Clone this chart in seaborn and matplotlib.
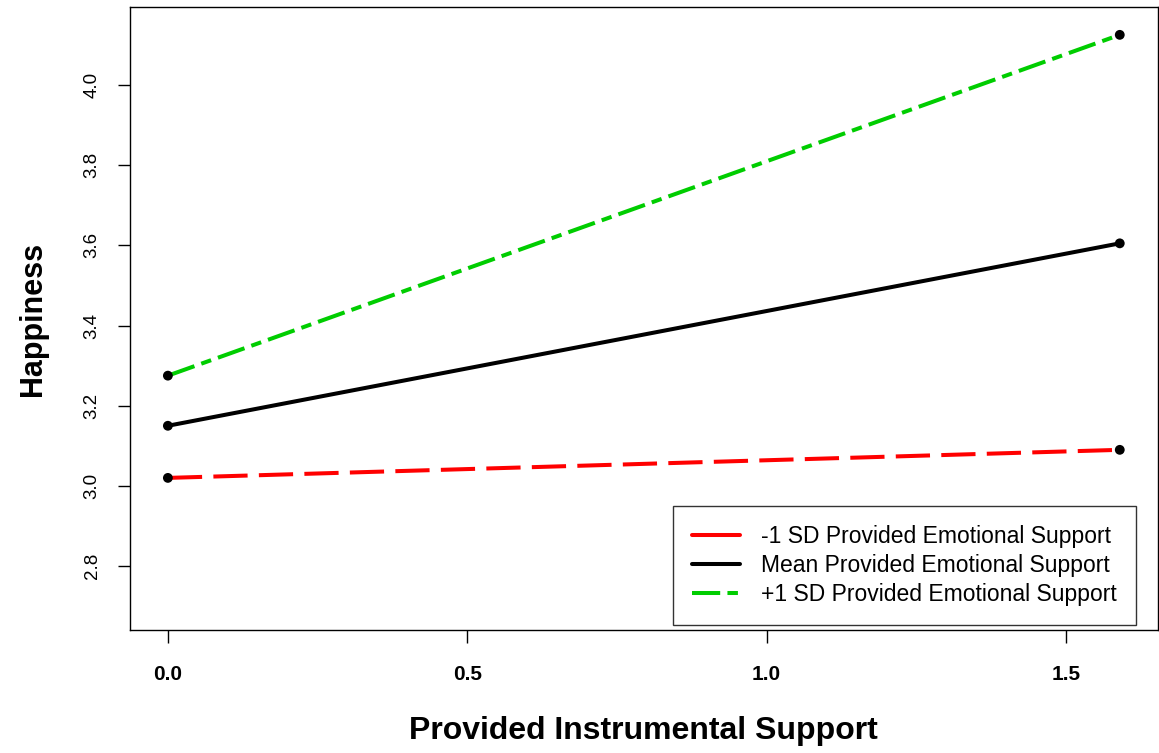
import matplotlib
matplotlib.use("Agg")
import matplotlib.pyplot as plt
import pandas as pd
import seaborn as sns

# Valores
x_vals = [0.0, 1.59]
low_vals = [3.02, 3.09]
mean_vals = [3.15, 3.605]
high_vals = [3.275, 4.125]

series_names = [
    "-1 SD Provided Emotional Support",
    "Mean Provided Emotional Support",
    "+1 SD Provided Emotional Support",
]
x_ticks = [0.0, 0.5, 1.0, 1.5]
y_ticks = [2.8, 3.0, 3.2, 3.4, 3.6, 3.8, 4.0]

colors = {series_names[0]: "#FF0000", series_names[1]: "#000000", series_names[2]: "#00CD00"}
dashes = {series_names[0]: (8.5, 2.8), series_names[1]: "", series_names[2]: (7.0, 1.8, 2.6, 1.8)}

df = pd.DataFrame({
    "x": x_vals * 3,
    "y": low_vals + mean_vals + high_vals,
    "grupo": [n for n in series_names for _ in x_vals],
})

sns.set_style("white")
plt.rcParams["font.family"] = ["Liberation Sans", "DejaVu Sans"]
plt.rcParams["text.color"] = "black"
plt.rcParams["axes.labelcolor"] = "black"
plt.rcParams["xtick.color"] = "black"
plt.rcParams["ytick.color"] = "black"

fig = plt.figure(figsize=(11.59, 7.53), dpi=100)
ax = fig.add_axes([0.112, 0.163, 0.887, 0.828])

sns.lineplot(data=df, x="x", y="y", hue="grupo", style="grupo", palette=colors,
             dashes=dashes, linewidth=2.9, ax=ax, legend=True)
sns.scatterplot(data=df, x="x", y="y", color="black", s=50, edgecolor="none",
                ax=ax, legend=False, zorder=5)

ax.set_xlim(-0.0636, 1.6536)
ax.set_ylim(2.64, 4.195)
ax.set_xticks(x_ticks)
ax.set_xticklabels([f"{t:.1f}" for t in x_ticks], fontsize=15, fontweight="bold")
ax.set_yticks(y_ticks)
ax.set_yticklabels([f"{t:.1f}" for t in y_ticks], fontsize=13.5, rotation=90, va="center")

ax.tick_params(axis="both", direction="out", length=9, width=1, color="black",
               bottom=True, left=True)
ax.tick_params(axis="x", pad=16)
ax.tick_params(axis="y", pad=12)

for s in ax.spines.values():
    s.set_color("black")
    s.set_linewidth(1)

ax.set_xlabel("Provided Instrumental Support", fontsize=23, fontweight="bold", labelpad=23)
ax.set_ylabel("Happiness", fontsize=22, fontweight="bold", labelpad=26)

leg = ax.legend(loc="lower right", bbox_to_anchor=(0.979, 0.008), borderaxespad=0,
                fontsize=16.5, frameon=True, fancybox=False, edgecolor="black",
                handlelength=2.1, handletextpad=0.9, labelspacing=0.25,
                borderpad=0.85, title=None)
leg.get_frame().set_linewidth(1)
for line in leg.get_lines():
    line.set_linewidth(2.9)
leg.get_lines()[0].set_linestyle("-")

fig.savefig("out.png", dpi=100, facecolor="white")
plt.close(fig)
